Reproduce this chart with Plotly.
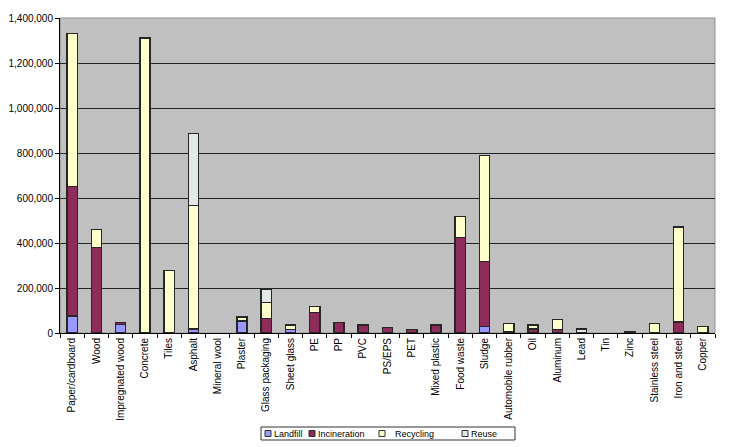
import plotly.graph_objects as go

materials = ["Paper/cardboard", "Wood", "Impregnated wood", "Concrete", "Tiles", "Asphalt",
             "Mineral wool", "Plaster", "Glass packaging", "Sheet glass", "PE", "PP", "PVC",
             "PS/EPS", "PET", "Mixed plastic", "Food waste", "Sludge", "Automobile rubber", "Oil",
             "Aluminum", "Lead", "Tin", "Zinc", "Stainless steel", "Iron and steel", "Copper"]

landfill =     [75000, 0, 38000, 0, 0, 18000, 0, 53000, 0, 15000, 0, 0, 0,
                0, 0, 0, 0, 28000, 0, 0, 0, 0, 0, 0, 0, 0, 0]
incineration = [575000, 380000, 8000, 0, 0, 0, 0, 0, 65000, 0, 90000, 46000, 35000,
                24000, 16000, 35000, 425000, 289000, 5000, 18000, 15000, 0, 0, 5000, 0, 49000, 0]
recycling =    [680000, 80000, 0, 1312000, 277000, 548000, 0, 18000, 70000, 20000, 27000, 0, 0,
                0, 0, 0, 92000, 473000, 38000, 17000, 46000, 0, 0, 0, 43000, 422000, 28000]
reuse =        [0, 0, 0, 0, 0, 320000, 0, 0, 60000, 0, 0, 0, 0,
                0, 0, 0, 0, 0, 0, 0, 0, 18000, 0, 0, 0, 0, 0]

series = [("Landfill", landfill, "#9999ff"),
          ("Incineration", incineration, "#8e2d5c"),
          ("Recycling", recycling, "#ffffcc"),
          ("Reuse", reuse, "#e2e9e5")]

fig = go.Figure()
for name, vals, col in series:
    # zero values -> None so no empty outline is drawn
    fig.add_trace(go.Bar(x=materials, y=[v if v else None for v in vals], name=name,
                         marker_color=col, marker_line=dict(color="#262626", width=1.4),
                         showlegend=False))

# page has an 8px body margin, so the figure is a bit smaller than the window
W, H = 729, 439
L, T, PW, PH = 52, 10, 655, 315

def px_x(x):
    return (x - L) / PW

def px_y(y):
    return (T + PH - y) / PH

fig.update_layout(
    width=W, height=H,
    barmode="stack", bargap=0.58,
    margin=dict(l=L, r=W - L - PW, t=T, b=H - T - PH, autoexpand=False),
    plot_bgcolor="#c0c0c0", paper_bgcolor="white",
    font=dict(family="Liberation Sans, Arial, sans-serif", size=9, color="black"),
)
fig.update_xaxes(tickangle=-90, tickson="boundaries", ticks="outside", ticklen=4,
                 tickcolor="black", showline=True, linecolor="black", linewidth=1,
                 showgrid=False, tickfont=dict(size=10), automargin=False)
fig.update_yaxes(range=[0, 1400000], dtick=200000, tickformat=",d", ticks="outside",
                 ticklen=4, tickcolor="black", showline=True, linecolor="black",
                 gridcolor="#222222", gridwidth=1, zeroline=False, tickfont=dict(size=10),
                 automargin=False)
# thin grey frame on top and right of the plot area
fig.add_shape(type="rect", xref="paper", yref="paper", x0=0, y0=0, x1=1, y1=1,
              line=dict(color="#909090", width=1), layer="below")

# compact legend box like the original spreadsheet chart
fig.add_shape(type="rect", xref="paper", yref="paper",
              x0=px_x(253), x1=px_x(507), y0=px_y(432), y1=px_y(419),
              line=dict(color="#333333", width=1), fillcolor="white")
swatch_x = [257, 301, 371, 454]
for (name, _, col), sx in zip(series, swatch_x):
    fig.add_shape(type="rect", xref="paper", yref="paper",
                  x0=px_x(sx), x1=px_x(sx + 6), y0=px_y(428.5), y1=px_y(422.5),
                  line=dict(color="#333333", width=1), fillcolor=col)
    gap = 14 if name == "Recycling" else 7
    fig.add_annotation(xref="paper", yref="paper", x=px_x(sx + gap),
                       y=px_y(425.5), text=name, showarrow=False, xanchor="left",
                       yanchor="middle", font=dict(size=9))

fig.write_html("out.html")
